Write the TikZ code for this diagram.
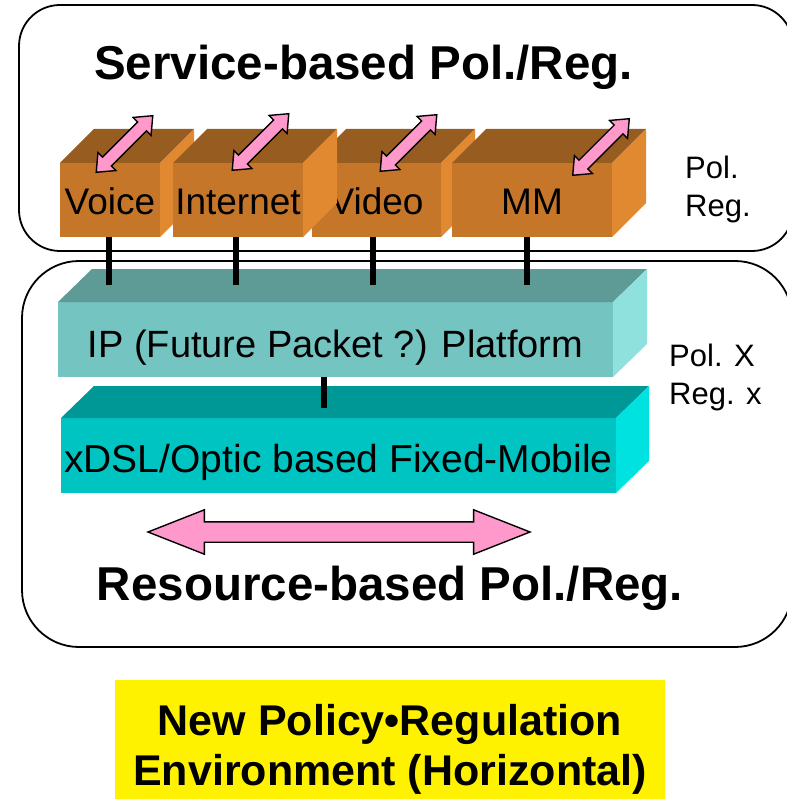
\documentclass[tikz,border=0pt]{standalone}
\usepackage{fontspec}
\setmainfont{Liberation Sans}
\usetikzlibrary{shapes.arrows}

% palette
\definecolor{boxfront}{HTML}{C67628}
\definecolor{boxtop}{HTML}{975C20}
\definecolor{boxside}{HTML}{E08930}
\definecolor{ipfront}{HTML}{74C4C2}
\definecolor{iptop}{HTML}{5E9A96}
\definecolor{ipside}{HTML}{8FE1DE}
\definecolor{dslfront}{HTML}{00C4C2}
\definecolor{dsltop}{HTML}{009896}
\definecolor{dslside}{HTML}{00E2E0}
\definecolor{arrowpink}{HTML}{FF99CC}

% top and right faces of a box whose front face is node #1
\newcommand\boxfaces[5]{%
  \fill[#2] (#1.north west) -- ++(#4,-#5) -- ([shift={(#4,-#5)}]#1.north east)
            -- (#1.north east) -- cycle;
  \fill[#3] (#1.north east) -- ([shift={(#4,-#5)}]#1.north east)
            -- ([shift={(#4,-#5)}]#1.south east) -- (#1.south east) -- cycle;}

\tikzset{
  panel/.style={draw=black, line width=1.8pt},
  frontface/.style={inner sep=0pt, outer sep=0pt, draw=none},
  svcbox/.style={frontface, fill=boxfront, minimum width=#1, minimum height=74,
    font=\fontsize{37}{37}\selectfont, text height=30pt, text depth=0pt},
  slab/.style={frontface, minimum width=555, minimum height=75},
  link/.style={line width=6pt, black},
  pinkarrow/.style={double arrow, draw=black, line width=1.4pt, fill=arrowpink,
    inner xsep=0pt, inner ysep=5.5pt, double arrow head extend=6.5pt,
    double arrow tip angle=80, minimum height=80, rotate=45},
  title/.style={font=\fontsize{47.5}{47.5}\selectfont\bfseries, inner sep=0pt, anchor=base},
  sidenote/.style={font=\fontsize{31}{38}\selectfont, align=left, inner sep=0pt, anchor=base west},
}

\begin{document}
\begin{tikzpicture}[x=1pt, y=-1pt]
\useasboundingbox (0,0) rectangle (786,799);

% the two panels
\draw[panel, rounded corners=41pt] (19,5) rectangle (793,251);
\draw[panel, rounded corners=57pt] (22,261) rectangle (792,647);

% service boxes
\node[svcbox=100] (voice) at (110,200) {Voice};
\boxfaces{voice}{boxtop}{boxside}{34}{34}
\node[svcbox=129] (video) at (376.5,200) {Video};
\boxfaces{video}{boxtop}{boxside}{34}{34}
\node[svcbox=130] (internet) at (238,200) {Internet};
\boxfaces{internet}{boxtop}{boxside}{34}{34}
\node[svcbox=160] (mm) at (532,200) {MM};
\boxfaces{mm}{boxtop}{boxside}{34}{34}

% network layers
\node[slab, fill=ipfront, font=\fontsize{38}{38}\selectfont, text height=35pt, text depth=0pt]
  (ip) at (335.5,339.5) {IP (Future Packet ?) Platform};
\boxfaces{ip}{iptop}{ipside}{34}{33}
\node[slab, fill=dslfront, font=\fontsize{39}{39}\selectfont, text height=33pt, text depth=0pt]
  (dsl) at (338.5,455.5) {xDSL/Optic based Fixed-Mobile};
\boxfaces{dsl}{dsltop}{dslside}{33}{32}

% vertical links
\coordinate (iplevel) at (0,285);
\draw[link] ([xshift=-1]voice.south) -- ([xshift=-1]voice.south |- iplevel);
\draw[link] ([xshift=-2]internet.south) -- ([xshift=-2]internet.south |- iplevel);
\draw[link] ([xshift=-3.5]video.south) -- ([xshift=-3.5]video.south |- iplevel);
\draw[link] ([xshift=-5]mm.south) -- ([xshift=-5]mm.south |- iplevel);
\coordinate (dsllevel) at (0,408);
\draw[link] ([xshift=-11.5]ip.south) -- ([xshift=-11.5]ip.south |- dsllevel);

% two-way arrows
\node[pinkarrow] (avoice) at (124.5,144) {};
\node[pinkarrow] (ainternet) at (260.5,142) {};
\node[pinkarrow] (avideo) at (408.5,143) {};
\node[pinkarrow] (amm) at (601,147) {};
\node[double arrow, draw=black, line width=1.4pt, fill=arrowpink,
  inner xsep=0pt, inner ysep=9.5pt, double arrow head extend=12pt,
  double arrow tip angle=43, minimum height=382] (aspan) at (339,532) {};

% labels
\node[title] (svctitle) at (363.5,80) {Service-based Pol./Reg.};
\node[title] (restitle) at (390,600) {Resource-based Pol./Reg.};
\node[sidenote] (svcnote) at (685,217) {Pol.\\Reg.};
\node[sidenote] (resnote) at (669,404) {Pol. X\\Reg. x};

% summary box
\node[fill=yellow, inner sep=0pt, minimum width=550, minimum height=119, anchor=north west]
  (envbox) at (115,680) {};
\node[font=\fontsize{43}{50}\selectfont\bfseries, align=center, inner sep=0pt, anchor=base]
  (envtext) at (390,785) {New Policy•Regulation\\Environment (Horizontal)};
\end{tikzpicture}
\end{document}
